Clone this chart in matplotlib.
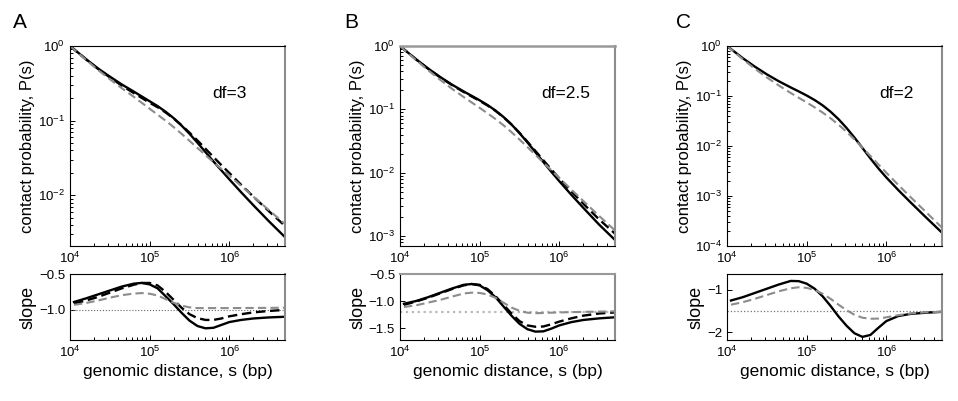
import numpy as np
import matplotlib
matplotlib.use("Agg")
from matplotlib import pyplot as plt

plt.rcParams["font.family"] = ["Liberation Sans", "DejaVu Sans"]
plt.rcParams["mathtext.fontset"] = "custom"
plt.rcParams["mathtext.rm"] = "Liberation Sans"
plt.rcParams["mathtext.default"] = "regular"

# log10 of genomic distance, shared grids
top_logs = [4.0, 4.2, 4.35, 4.5, 4.65, 4.8, 4.9, 5.0, 5.1, 5.2, 5.3, 5.4,
            5.5, 5.6, 5.7, 5.8, 5.9, 6.0, 6.15, 6.3, 6.5, 6.7]
bot_logs = [4.05, 4.2, 4.35, 4.5, 4.65, 4.8, 4.9, 5.0, 5.1, 5.2, 5.3, 5.4,
            5.5, 5.6, 5.7, 5.8, 5.9, 6.0, 6.15, 6.3, 6.5, 6.7]

# ---- panel A (df=3), log10 P(s)
a_solid = [0, -0.175, -0.30, -0.41, -0.515, -0.61, -0.675, -0.74, -0.805, -0.88, -0.965,
           -1.065, -1.175, -1.295, -1.42, -1.545, -1.665, -1.785, -1.96, -2.13, -2.35, -2.56]
a_dash = [0, -0.18, -0.305, -0.42, -0.53, -0.63, -0.695, -0.76, -0.82, -0.89, -0.97,
          -1.06, -1.16, -1.265, -1.375, -1.485, -1.595, -1.70, -1.86, -2.015, -2.215, -2.41]
a_gray = [0, -0.185, -0.32, -0.445, -0.565, -0.68, -0.76, -0.84, -0.92, -1.0, -1.085,
          -1.175, -1.27, -1.365, -1.46, -1.555, -1.645, -1.735, -1.875, -2.015, -2.2, -2.385]
# slopes
a_solid_sl = [-0.89, -0.84, -0.785, -0.73, -0.675, -0.635, -0.624, -0.645, -0.70, -0.81, -0.92,
              -1.04, -1.15, -1.225, -1.257, -1.25, -1.21, -1.17, -1.14, -1.12, -1.105, -1.096]
a_dash_sl = [-0.91, -0.87, -0.82, -0.76, -0.70, -0.65, -0.625, -0.625, -0.66, -0.75, -0.86,
             -0.97, -1.06, -1.115, -1.14, -1.14, -1.12, -1.09, -1.06, -1.035, -1.015, -1.0]
a_gray_sl = [-0.93, -0.905, -0.87, -0.83, -0.795, -0.773, -0.766, -0.775, -0.80, -0.85, -0.90,
             -0.94, -0.965, -0.975, -0.975, -0.975, -0.975, -0.975, -0.974, -0.973, -0.972, -0.97]

# ---- panel B (df=2.5)
b_solid = [0, -0.207, -0.352, -0.485, -0.607, -0.717, -0.786, -0.856, -0.932, -1.018, -1.12,
           -1.238, -1.373, -1.52, -1.674, -1.83, -1.984, -2.132, -2.345, -2.55, -2.817, -3.06]
b_dash = [0, -0.21, -0.356, -0.491, -0.614, -0.726, -0.796, -0.865, -0.939, -1.024, -1.123,
          -1.238, -1.368, -1.509, -1.655, -1.802, -1.947, -2.088, -2.29, -2.485, -2.735, -2.96]
b_gray = [0, -0.22, -0.379, -0.529, -0.672, -0.805, -0.89, -0.975, -1.062, -1.153, -1.251,
          -1.359, -1.474, -1.594, -1.716, -1.838, -1.959, -2.081, -2.262, -2.442, -2.68, -2.91]
b_solid_sl = [-1.05, -1.0, -0.93, -0.85, -0.77, -0.70, -0.685, -0.71, -0.80, -0.93, -1.10,
              -1.27, -1.42, -1.52, -1.565, -1.56, -1.51, -1.45, -1.39, -1.35, -1.32, -1.30]
b_dash_sl = [-1.07, -1.01, -0.94, -0.86, -0.78, -0.71, -0.685, -0.70, -0.78, -0.91, -1.07,
             -1.23, -1.37, -1.45, -1.475, -1.47, -1.43, -1.38, -1.32, -1.27, -1.23, -1.21]
b_gray_sl = [-1.11, -1.08, -1.03, -0.98, -0.92, -0.86, -0.845, -0.85, -0.88, -0.94, -1.03,
             -1.12, -1.18, -1.215, -1.225, -1.22, -1.215, -1.21, -1.205, -1.20, -1.195, -1.19]

# ---- panel C (df=2)
c_solid = [0, -0.246, -0.414, -0.567, -0.705, -0.829, -0.908, -0.99, -1.081, -1.187, -1.314,
           -1.464, -1.638, -1.832, -2.039, -2.248, -2.447, -2.629, -2.881, -3.12, -3.431, -3.735]
c_gray = [0, -0.267, -0.455, -0.629, -0.79, -0.94, -1.035, -1.129, -1.227, -1.331, -1.446,
          -1.574, -1.716, -1.869, -2.032, -2.199, -2.367, -2.534, -2.778, -3.015, -3.324, -3.635]
c_solid_sl = [-1.25, -1.17, -1.07, -0.97, -0.87, -0.785, -0.79, -0.85, -0.97, -1.15, -1.38,
              -1.63, -1.85, -2.03, -2.115, -2.07, -1.90, -1.74, -1.62, -1.57, -1.54, -1.52]
c_gray_sl = [-1.35, -1.29, -1.21, -1.12, -1.03, -0.96, -0.935, -0.95, -1.00, -1.09, -1.21,
             -1.35, -1.48, -1.59, -1.66, -1.685, -1.68, -1.65, -1.60, -1.56, -1.53, -1.52]

panels = [
    dict(letter="A", df="df=3", top=[a_solid, a_dash, a_gray], bot=[a_solid_sl, a_dash_sl, a_gray_sl],
         ylim=(2.1e-3, 1), slim=(-1.42, -0.5), sticks=[-1.0, -0.5], slabels=["\u22121.0", "\u22120.5"],
         ref=-1.0, refc="0.4", refw=0.8, left=0.0731, dfx=0.74, lx=-0.233),
    dict(letter="B", df="df=2.5", top=[b_solid, b_dash, b_gray], bot=[b_solid_sl, b_dash_sl, b_gray_sl],
         ylim=(7e-4, 1), slim=(-1.72, -0.5), sticks=[-1.5, -1.0, -0.5],
         slabels=["\u22121.5", "\u22121.0", "\u22120.5"], ref=-1.2, refc="0.72", refw=1.6,
         left=0.4175, dfx=0.77, lx=-0.228),
    dict(letter="C", df="df=2", top=[c_solid, None, c_gray], bot=[c_solid_sl, None, c_gray_sl],
         ylim=(1e-4, 1), slim=(-2.19, -0.62), sticks=[-2, -1], slabels=["\u22122", "\u22121"],
         ref=-1.5, refc="0.45", refw=0.9, left=0.7589, dfx=0.79, lx=-0.204),
]

styles = [
    dict(color="black", lw=1.7, ls="-"),
    dict(color="black", lw=1.7, ls=(0, (4, 2))),
    dict(color="#8c8c8c", lw=1.5, ls=(0, (4, 2))),
]

fig = plt.figure(figsize=(9.58, 4.01), dpi=100)
xt = 10.0 ** np.array(top_logs)
xb = 10.0 ** np.array(bot_logs)

for p in panels:
    ax = fig.add_axes([p["left"], 0.3865, 0.2244, 0.4988])
    for data, st in zip(p["top"], styles):
        if data is None:
            continue
        ax.plot(xt, 10.0 ** np.array(data), **st)
    ax.set_xscale("log")
    ax.set_yscale("log")
    ax.set_xlim(1e4, 5e6)
    ax.set_ylim(*p["ylim"])
    ax.set_ylabel("contact probability, P(s)", fontsize=12, labelpad=2)
    ax.text(p["dfx"], 0.76, p["df"], transform=ax.transAxes, fontsize=12.5,
            ha="center", va="center")
    ax.text(p["lx"], 1.115, p["letter"], transform=ax.transAxes, fontsize=15,
            ha="center", va="center")

    bx = fig.add_axes([p["left"], 0.1521, 0.2244, 0.1646])
    bx.axhline(p["ref"], color=p["refc"], lw=p["refw"], ls=":")
    for data, st in zip(p["bot"], styles):
        if data is None:
            continue
        bx.plot(xb, data, **st)
    bx.set_xscale("log")
    bx.set_xlim(1e4, 5e6)
    bx.set_ylim(*p["slim"])
    bx.set_yticks(p["sticks"])
    bx.set_yticklabels(p["slabels"])
    bx.set_ylabel("slope", fontsize=13, labelpad=2)
    bx.set_xlabel("genomic distance, s (bp)", fontsize=12.5, labelpad=3)

    for a in (ax, bx):
        a.tick_params(which="both", direction="in", labelsize=9.5, width=0.7)
        a.tick_params(which="major", length=3.5)
        a.tick_params(which="minor", length=2)
        for sp in a.spines.values():
            sp.set_linewidth(0.8)
        a.spines["right"].set_color("0.55")
        a.spines["right"].set_linewidth(1.5)
    if p["letter"] == "B":
        ax.spines["top"].set_color("0.6")
        ax.spines["top"].set_linewidth(1.8)
        bx.spines["top"].set_color("0.6")
        bx.spines["top"].set_linewidth(1.5)

fig.savefig("out.png", dpi=100)
